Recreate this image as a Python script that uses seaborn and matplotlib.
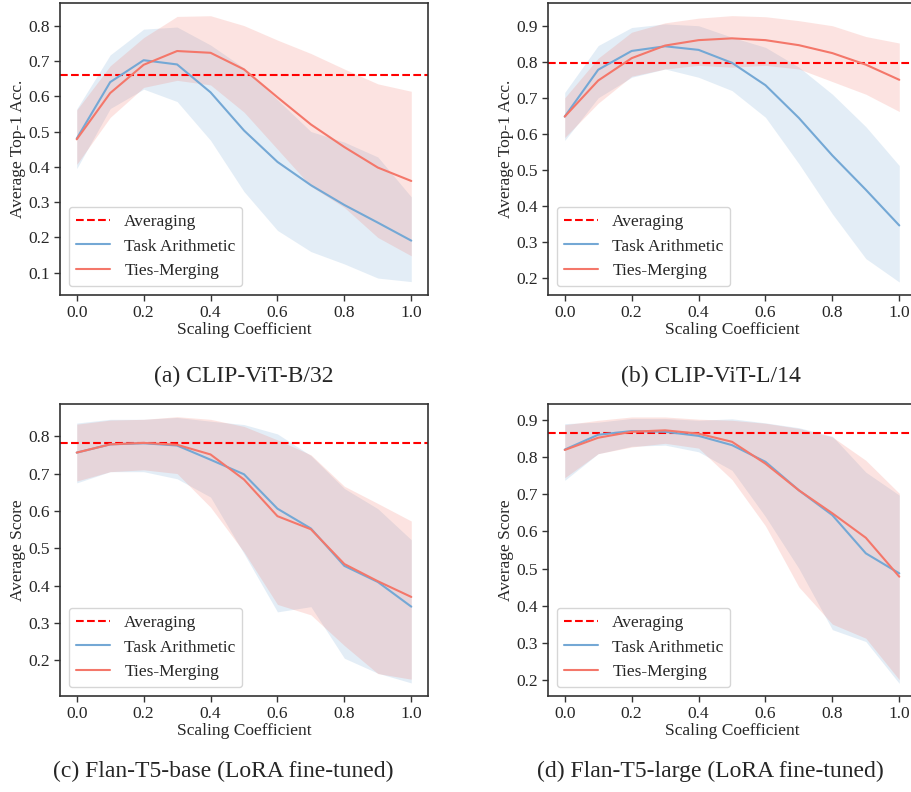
import numpy as np
import pandas as pd
import matplotlib
matplotlib.use("Agg")
import matplotlib.pyplot as plt
import seaborn as sns

sns.set_style("ticks")
plt.rcParams['font.family'] = ['Liberation Serif', 'DejaVu Serif']
plt.rcParams['font.size'] = 12.5
plt.rcParams['axes.edgecolor'] = '#333333'
plt.rcParams['axes.linewidth'] = 1.2

# scaling coefficients
coef = [0.0, 0.1, 0.2, 0.3, 0.4, 0.5, 0.6, 0.7, 0.8, 0.9, 1.0]

# (a) CLIP-ViT-B/32
a_avg = 0.661
a_ta_mean = [0.480, 0.640, 0.702, 0.690, 0.611, 0.503, 0.414, 0.348, 0.292, 0.242, 0.191]
a_ta_up = [0.564, 0.717, 0.790, 0.796, 0.745, 0.680, 0.590, 0.500, 0.470, 0.428, 0.315]
a_ta_lo = [0.395, 0.565, 0.620, 0.585, 0.475, 0.330, 0.220, 0.160, 0.125, 0.085, 0.075]
a_ties_mean = [0.478, 0.609, 0.689, 0.728, 0.723, 0.676, 0.597, 0.520, 0.456, 0.398, 0.360]
a_ties_up = [0.561, 0.686, 0.766, 0.826, 0.828, 0.800, 0.759, 0.721, 0.677, 0.635, 0.614]
a_ties_lo = [0.407, 0.540, 0.625, 0.645, 0.632, 0.555, 0.450, 0.345, 0.285, 0.200, 0.148]

# (b) CLIP-ViT-L/14
b_avg = 0.796
b_ta_mean = [0.648, 0.778, 0.830, 0.843, 0.833, 0.797, 0.735, 0.644, 0.540, 0.445, 0.346]
b_ta_up = [0.715, 0.845, 0.895, 0.905, 0.900, 0.868, 0.840, 0.785, 0.710, 0.620, 0.512]
b_ta_lo = [0.582, 0.700, 0.757, 0.780, 0.757, 0.720, 0.646, 0.517, 0.378, 0.254, 0.189]
b_ties_mean = [0.648, 0.748, 0.810, 0.845, 0.860, 0.865, 0.860, 0.846, 0.824, 0.792, 0.750]
b_ties_up = [0.700, 0.810, 0.882, 0.908, 0.921, 0.928, 0.925, 0.914, 0.900, 0.870, 0.852]
b_ties_lo = [0.590, 0.685, 0.760, 0.780, 0.790, 0.785, 0.790, 0.780, 0.745, 0.710, 0.662]

# (c) Flan-T5-base
c_avg = 0.781
c_ta_mean = [0.756, 0.778, 0.781, 0.775, 0.737, 0.698, 0.606, 0.553, 0.453, 0.410, 0.344]
c_ta_up = [0.835, 0.845, 0.845, 0.850, 0.840, 0.831, 0.806, 0.748, 0.660, 0.606, 0.523]
c_ta_lo = [0.675, 0.705, 0.705, 0.686, 0.637, 0.486, 0.330, 0.344, 0.206, 0.166, 0.140]
c_ties_mean = [0.756, 0.778, 0.782, 0.777, 0.751, 0.684, 0.586, 0.551, 0.458, 0.412, 0.370]
c_ties_up = [0.832, 0.843, 0.845, 0.852, 0.845, 0.826, 0.790, 0.750, 0.666, 0.620, 0.573]
c_ties_lo = [0.680, 0.705, 0.710, 0.700, 0.610, 0.490, 0.350, 0.322, 0.240, 0.165, 0.150]

# (d) Flan-T5-large
d_avg = 0.866
d_ta_mean = [0.821, 0.861, 0.871, 0.869, 0.858, 0.833, 0.788, 0.711, 0.644, 0.541, 0.487]
d_ta_up = [0.891, 0.895, 0.905, 0.905, 0.900, 0.904, 0.893, 0.880, 0.857, 0.760, 0.698]
d_ta_lo = [0.738, 0.810, 0.830, 0.833, 0.815, 0.765, 0.640, 0.500, 0.335, 0.303, 0.190]
d_ties_mean = [0.820, 0.853, 0.869, 0.873, 0.864, 0.842, 0.783, 0.711, 0.649, 0.583, 0.478]
d_ties_up = [0.888, 0.900, 0.909, 0.909, 0.903, 0.900, 0.892, 0.878, 0.855, 0.792, 0.703]
d_ties_lo = [0.745, 0.810, 0.828, 0.838, 0.825, 0.740, 0.615, 0.450, 0.350, 0.312, 0.200]

ta_color = '#74a8d5'
ties_color = '#f4776a'

panels = [
    dict(rect=[0.0658, 0.6275, 0.4035, 0.3687], ylabel='Average Top-1 Acc.', avg=a_avg,
         ta=(a_ta_mean, a_ta_lo, a_ta_up), ties=(a_ties_mean, a_ties_lo, a_ties_up),
         ylim=(0.037, 0.864), yticks=[0.1, 0.2, 0.3, 0.4, 0.5, 0.6, 0.7, 0.8],
         caption='(a) CLIP-ViT-B/32', cap=(0.2675, 0.538)),
    dict(rect=[0.6009, 0.6275, 0.4035, 0.3687], ylabel='Average Top-1 Acc.', avg=b_avg,
         ta=(b_ta_mean, b_ta_lo, b_ta_up), ties=(b_ties_mean, b_ties_lo, b_ties_up),
         ylim=(0.153, 0.963), yticks=[0.2, 0.3, 0.4, 0.5, 0.6, 0.7, 0.8, 0.9],
         caption='(b) CLIP-ViT-L/14', cap=(0.7796, 0.538)),
    dict(rect=[0.0658, 0.1212, 0.4035, 0.3687], ylabel='Average Score', avg=c_avg,
         ta=(c_ta_mean, c_ta_lo, c_ta_up), ties=(c_ties_mean, c_ties_lo, c_ties_up),
         ylim=(0.105, 0.886), yticks=[0.2, 0.3, 0.4, 0.5, 0.6, 0.7, 0.8],
         caption='(c) Flan-T5-base (LoRA fine-tuned)', cap=(0.2445, 0.039)),
    dict(rect=[0.6009, 0.1212, 0.4035, 0.3687], ylabel='Average Score', avg=d_avg,
         ta=(d_ta_mean, d_ta_lo, d_ta_up), ties=(d_ties_mean, d_ties_lo, d_ties_up),
         ylim=(0.156, 0.944), yticks=[0.2, 0.3, 0.4, 0.5, 0.6, 0.7, 0.8, 0.9],
         caption='(d) Flan-T5-large (LoRA fine-tuned)', cap=(0.7785, 0.039)),
]

fig = plt.figure(figsize=(9.12, 7.92), dpi=100)

for p in panels:
    ax = fig.add_axes(p['rect'])
    ax.axhline(p['avg'], color='red', linestyle='--', linewidth=1.5, label='Averaging')
    for name, (mean, lo, up), col in [('Task Arithmetic', p['ta'], ta_color),
                                      ('Ties-Merging', p['ties'], ties_color)]:
        df = pd.DataFrame({'coef': coef, 'acc': mean})
        sns.lineplot(data=df, x='coef', y='acc', ax=ax, color=col, linewidth=1.5, label=name)
        ax.fill_between(coef, lo, up, color=col, alpha=0.2, linewidth=0)
    ax.set_xlim(-0.05, 1.05)
    ax.set_ylim(*p['ylim'])
    ax.set_yticks(p['yticks'])
    ax.set_xticks([0.0, 0.2, 0.4, 0.6, 0.8, 1.0])
    ax.set_xlabel('Scaling Coefficient', fontsize=12.5, labelpad=1)
    ax.set_ylabel(p['ylabel'], fontsize=12.5, labelpad=2)
    ax.tick_params(labelsize=12.5, length=4, width=1, color='#333333', pad=3)
    for s in ax.spines.values():
        s.set_visible(True)
    ax.legend(loc='lower left', fontsize=12.5, frameon=True, edgecolor='#cccccc',
              fancybox=True, framealpha=0.8)
    fig.text(p['cap'][0], p['cap'][1], p['caption'], ha='center', va='top', fontsize=17)

plt.savefig('out.png', dpi=100)
